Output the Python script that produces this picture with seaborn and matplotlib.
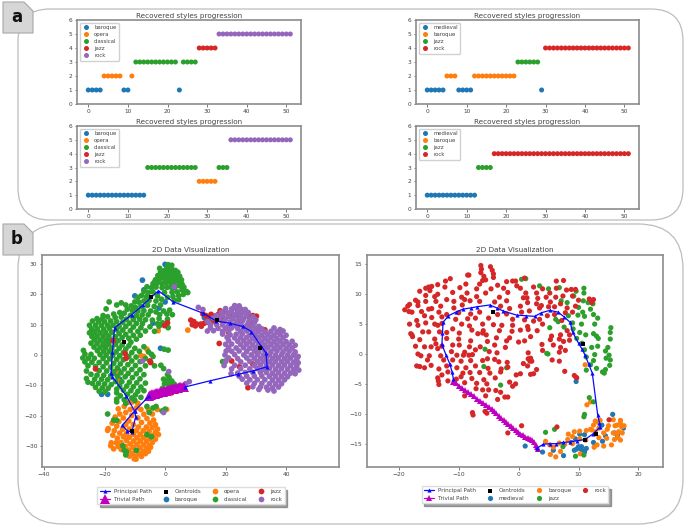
"""Recovered style progressions and 2D embeddings with principal paths."""
import matplotlib
matplotlib.use("Agg")

import matplotlib.pyplot as plt
import numpy as np
import pandas as pd
import seaborn as sns
from matplotlib.patches import FancyBboxPatch, Polygon

W, H = 685, 527
TEXT = "#444444"
SPINE = "#8c8c8c"
COLORS = ["#1f77b4", "#ff7f0e", "#2ca02c", "#d62728", "#9467bd"]

STYLES_5 = ["baroque", "opera", "classical", "jazz", "rock"]
STYLES_4 = ["medieval", "baroque", "jazz", "rock"]

# style level at each position of the 52 step progression
LEVELS_TL = [1, 1, 1, 1, 2, 2, 2, 2, 2, 1, 1, 2, 3, 3, 3, 3, 3, 3, 3, 3, 3, 3, 3, 1, 3, 3,
             3, 3, 4, 4, 4, 4, 4, 5, 5, 5, 5, 5, 5, 5, 5, 5, 5, 5, 5, 5, 5, 5, 5, 5, 5, 5]
LEVELS_TR = [1, 1, 1, 1, 1, 2, 2, 2, 1, 1, 1, 1, 2, 2, 2, 2, 2, 2, 2, 2, 2, 2, 2, 3, 3, 3,
             3, 3, 3, 1, 4, 4, 4, 4, 4, 4, 4, 4, 4, 4, 4, 4, 4, 4, 4, 4, 4, 4, 4, 4, 4, 4]
LEVELS_BL = [1, 1, 1, 1, 1, 1, 1, 1, 1, 1, 1, 1, 1, 1, 1, 3, 3, 3, 3, 3, 3, 3, 3, 3, 3, 3,
             3, 3, 2, 2, 2, 2, 2, 3, 3, 3, 5, 5, 5, 5, 5, 5, 5, 5, 5, 5, 5, 5, 5, 5, 5, 5]
LEVELS_BR = [1, 1, 1, 1, 1, 1, 1, 1, 1, 1, 1, 1, 1, 3, 3, 3, 3, 4, 4, 4, 4, 4, 4, 4, 4, 4,
             4, 4, 4, 4, 4, 4, 4, 4, 4, 4, 4, 4, 4, 4, 4, 4, 4, 4, 4, 4, 4, 4, 4, 4, 4, 4]
YTICKS = [0, 1, 2, 3, 4, 5, 6]

# left embedding: principal path, trivial path, centroids
PATH_L = [(6.5, -10.6), (15, -8.5), (24.1, -6.4), (29, -5.3), (33.7, -3.9), (33.4, 0.6), (31.8, 2.8),
          (28.5, 7.7), (25.7, 9.4), (21.3, 10.5), (16.9, 11.2), (12.5, 13.8), (2.6, 17.6), (-2.2, 21.2),
          (-7.3, 16.5), (-11.1, 13.2), (-16.7, 9), (-17.4, 1.1), (-17.9, -6.1), (-17.4, -7.2),
          (-12.8, -13.6), (-10.1, -18.5), (-9.7, -20.4), (-11, -25.4), (-12.5, -25.1), (-14.1, -23.2),
          (-10.1, -18.5), (-5.3, -13.6)]
TRIVIAL_L = [(-5.3, -13.5), (-5, -13.3), (-4.6, -13.2), (-4.2, -13), (-3.8, -12.9), (-3.4, -12.8),
             (-3, -12.7), (-2.6, -12.6), (-2.2, -12.5), (-1.8, -12.4), (-1.4, -12.3), (-1, -12.2),
             (-0.6, -12.1), (-0.2, -12), (0.2, -11.8), (0.6, -11.7), (1, -11.6), (1.4, -11.5),
             (1.8, -11.4), (2.2, -11.3), (2.6, -11.2), (3, -11.1), (3.4, -11), (3.8, -10.9),
             (4.2, -10.8), (4.6, -10.7), (5, -10.6), (5.4, -10.6), (5.8, -10.5), (6.2, -10.5)]
CENTROIDS_L = [(-4.6, 19.1), (-13.5, 4.4), (-11, -25.1), (17.2, 11.6), (31.5, 2.2)]

BAROQUE_L = [(-7.5, 24.7), (-3.5, 24), (-7, 21.5), (-10, 19.5), (0, 29.9), (-1.5, 26), (2, 22.5), (3, 22.2),
             (0, 17.5), (-2, 15.5), (-1.5, 2.2), (-4, 10.5), (-17, -6), (-21, -13), (-15, -8), (-19, -13),
             (-24, 8), (-19, 5), (4.5, 25), (14.8, 12), (16, 12.5), (13, 12.3), (-20, 3), (-15.5, -5)]
OPERA_L = [(7.5, 8.2), (-2.3, 8), (-6, 1.9), (-8, -0.2), (-7, -0.5), (-15.5, -6), (-15.5, -8.5), (2, -12.7),
           (0.5, -18), (-10.8, -15.5), (-12, -15.6), (-9, -16), (-13.5, -17), (-15.5, -17.8), (-8, -18),
           (-5.5, -18.2), (-11.5, -18), (-13, -19), (-15, -19.5), (-7, -19.6), (-4.2, -19.5), (-11, -20),
           (-16.5, -20.5), (-13.8, -20.8), (-9, -20.8), (-6, -21), (-3.8, -21.5), (-12, -21.8), (-15.3, -22),
           (-7.8, -22.3), (-5, -22.5), (-17.5, -22.5), (-13, -23), (-10.5, -23), (-3.2, -23), (-16, -23.5),
           (-8.8, -23.8), (-6.2, -23.8), (-4.3, -24), (-18.8, -24.3), (-14, -24.5), (-11.8, -24.5), (-2.5, -24.5),
           (-16.8, -25), (-9.5, -25), (-7.2, -25), (-5.3, -25.3), (-3.2, -25.5), (-19, -24.9), (-15, -25.8),
           (-12.8, -26), (-10.5, -26.2), (-8.2, -26.2), (-6, -26.5), (-4, -26.6), (-2.2, -26.3), (-17.3, -26.5),
           (-13.8, -27), (-11.8, -27.2), (-9.3, -27.3), (-7.2, -27.3), (-5.2, -27.7), (-3.2, -27.8),
           (-15.8, -27.5), (-12.8, -28.2), (-10.4, -28.4), (-8.2, -28.4), (-6.2, -28.6), (-4.2, -28.9),
           (-17.8, -29), (-16.2, -29), (-14.6, -28.9), (-11.6, -29.4), (-9.3, -29.5), (-7.2, -29.7),
           (-5.2, -29.9), (-18, -30), (-15.5, -30.2), (-13.2, -30.2), (-10.6, -30.5), (-8.3, -30.7),
           (-6.2, -30.8), (-4.8, -30.5), (-17, -31), (-14.5, -31.2), (-12, -31.4), (-9.6, -31.6), (-7.3, -31.8),
           (-5.5, -31.8), (-13, -32.3), (-10.8, -32.5), (-8.6, -32.7), (-6.5, -32.6), (-11.8, -33.4),
           (-9.8, -33.6), (-7.8, -33.5), (-10.2, -34.3), (-9.6, -34.4), (-2.6, -18), (-9.5, -17.5)]
CLASSICAL_L = [
    (1, 29.8), (1.5, 29), (2.2, 29.6), (0.5, 28.5), (-1.8, 28.6), (-1.5, 27.5), (-0.3, 27.8), (1, 27.6), (2.3, 28.2),
    (3.4, 27.9), (4.2, 27.3), (3, 26.8), (1.8, 26.6), (0.3, 26.5), (-1, 26.4), (-2.4, 26.2), (4.8, 26), (3.6, 25.6),
    (2.4, 25.4), (1, 25.2), (-0.4, 25.3), (-1.9, 25), (-3.2, 24.8), (5.4, 24.8), (4.3, 24.4), (3, 24), (1.6, 24),
    (0.2, 23.8), (-1, 23.5), (-2.6, 23.7), (-4, 23.5), (5.6, 23.4), (4.6, 22.9), (3.5, 22.7), (6.2, 22.4), (2, 22.4),
    (0.6, 22.3), (-1, 22.2), (-3, 22.4), (-4.5, 22.2), (-6, 22.5), (7, 21), (5.6, 21.5), (4, 20.8), (2.3, 20.7),
    (-0.2, 20.6), (-4, 20.8), (-5.5, 20.6), (-7, 21), (7.5, 20.6), (6, 20), (4.5, 19.5), (2.6, 19.3), (0.8, 19),
    (-2.5, 19.5), (-6.2, 19.2), (-7.8, 19.6), (-9, 19), (-1.2, 18.4), (-3, 17.8), (-5.3, 18), (-7, 17.8), (-8.6, 17.4),
    (-10, 17.5), (-14.5, 17.2), (-18.5, 17.5), (3, 18), (4.5, 18.2), (-1.5, 16.5), (-3.6, 16), (-5.8, 16.4), (-8, 16),
    (-9.8, 15.7), (-11.2, 16.2), (-13, 16.5), (-16, 16.5), (-12.5, 15.1), (-10.8, 14.6), (-9, 14.5), (-7, 14.6),
    (-4.8, 14.5), (-3, 14.2), (-0.5, 14.5), (1.5, 14.8), (0.6, 13.5), (2.4, 13.3), (-1.8, 13.3), (-5.6, 13.2),
    (-7.6, 13.2), (-9.5, 13), (-11.5, 13), (-13.5, 13.8), (-15, 14), (-17, 13.5), (-19.5, 15.2), (-20.5, 13), (-19, 12.6),
    (-16.5, 12.4), (-14.5, 12.5), (-12.8, 11.8), (-10.5, 11.7), (-8.4, 11.8), (-6.5, 11.6), (-4.2, 11.5), (-2, 12),
    (0.8, 11.8), (-20.8, 11.8), (-22.5, 12), (-24, 11.2), (-22, 11), (-20, 11), (-18, 11.2), (-16, 11), (-14, 10.8),
    (-11.8, 10.5), (-9.5, 10.4), (-7.5, 10.3), (-2.5, 10.3), (0, 10.2), (-25, 9.8), (-23, 9.8), (-21, 9.7), (-19, 9.8),
    (-17.2, 9.8), (-15.2, 9.5), (-13, 9.4), (-10.5, 9.2), (-8, 9), (-5, 9.3), (-2, 9.5), (1, 9), (-24.3, 8.6), (-22.4, 8.6),
    (-20.3, 8.5), (-18.4, 8.7), (-16, 8.3), (-14, 8.2), (-11.5, 8), (-9, 7.8), (-6.5, 7.9), (-25, 7.3), (-23.3, 7.4),
    (-21.5, 7.3), (-19.6, 7.3), (-17.6, 7.5), (-15.2, 7), (-13, 6.8), (-10.5, 6.5), (-8.2, 6.5), (-24.2, 6.1), (-22.5, 6.1),
    (-20.5, 6.1), (-18.6, 6.2), (-16.5, 6), (-14.2, 5.7), (-12, 5.5), (-9.5, 5.2), (-23.4, 5), (-21.5, 4.9), (-19.6, 4.8),
    (-17.8, 4.9), (-15.5, 4.7), (-11.3, 4.2), (-24.5, 3.9), (-22.5, 3.8), (-20.5, 3.6), (-18.6, 3.6), (-16.4, 3.5),
    (-14.2, 3.3), (-12, 3), (-23.5, 2.6), (-21.5, 2.5), (-19.6, 2.4), (-17.6, 2.3), (-15.2, 2.2), (-13, 1.9), (-10, 2.2),
    (-7, 2.7), (-5.5, 1), (-27, 1.5), (-22.4, 1.4), (-20.4, 1.2), (-18.5, 1.1), (-16.2, 1), (-13.8, 0.8), (-11, 0.8),
    (-8.5, 1.2), (-4.5, 0.2), (-26.5, 0.3), (-24.5, 0.2), (-21.5, 0.1), (-19.5, -0.1), (-17.3, -0.2), (-15, -0.3),
    (-12, -0.5), (-9.6, -0.7), (-6.5, -1.2), (-4, -0.5), (-27.2, -1), (-25.4, -1.1), (-23.4, -1.1), (-20.5, -1.2),
    (-18.3, -1.3), (-16, -1.5), (-13.8, -1.6), (-11, -2), (-8.3, -2.2), (-4.8, -2.3), (-26.5, -2.3), (-24.2, -2.4),
    (-21.8, -2.5), (-19.4, -2.6), (-17, -2.8), (-14.8, -3), (-12.3, -3.2), (-9.8, -3.5), (-6.5, -3.6), (-3.5, -3.6),
    (-25.5, -3.6), (-23, -3.8), (-20.5, -3.9), (-18, -4), (-15.8, -4.3), (-13.5, -4.6), (-11, -4.8), (-8.3, -4.9),
    (-1.4, -3.4), (-0.5, -4.5), (-26, -5.3), (-21.8, -5.2), (-19.3, -5.3), (-17, -5.5), (-14.6, -5.9), (-12.2, -6.1),
    (-9.5, -6.2), (-7, -6.5), (0.8, -6.5), (1.3, -7.4), (-24.5, -6.4), (-22.5, -6.7), (-20.3, -6.7), (-18, -6.9),
    (-15.8, -7.1), (-13.2, -7.2), (-10.8, -7.5), (-8.3, -7.9), (-0.5, -8), (1, -8.5), (2.2, -8.6), (-26, -7.8),
    (-23.3, -8), (-21, -8), (-19, -8.2), (-16.4, -8.8), (-14.3, -8.8), (-11.8, -9), (-9.4, -9.2), (-6.5, -9.3),
    (-0.2, -9.5), (1.5, -9.8), (3, -9.6), (-25.5, -9), (-24, -9.4), (-22, -9.4), (-20, -9.6), (-17.8, -9.8),
    (-15, -10.2), (-12.7, -10.3), (-10.5, -10.5), (-8, -10.6), (-0.8, -11), (1.2, -11.2), (-23, -10.7), (-20.8, -10.9),
    (-18.8, -11), (-16, -11.3), (-13.8, -11.6), (-11.3, -11.8), (-9, -12), (-7, -11.8), (-21.8, -12), (-19.8, -12.2),
    (-16, -12.5), (-12.5, -13), (-9.8, -13.2), (-14.8, -13.5), (-11, -14.2), (-8, -14), (-16, -14.6), (-13.5, -14.8),
    (-10, -15), (-16, -15.5), (-13, -16), (-6, -17), (-4, -17.5), (-3, -17), (-1, -18.5), (0, -17.9), (-19, -19.5),
    (-17, -21.5), (-16, -21.6), (-6, -26.3), (-4.5, -27), (-14, -30), (-13.5, -31.5), (-12.8, -32), (-9.5, -31.5),
    (-5.2, -19), (-13, -33), (20, -2), (19, -2.2), (-0.8, 10.6), (-1.8, 9.8), (1, 1.6), (-0.3, 1.9), (-3.5, 7.8),
]
JAZZ_L = [(8.5, 11.5), (9.5, 11), (9, 10), (10.5, 10.2), (11.8, 10.2), (13, 10.5), (14, 10.8), (10, 9.6), (12, 9.5),
          (12.5, 13.5), (13.5, 13), (14, 12.4), (15.2, 13.4), (16.4, 12.8), (17.6, 13.4), (18.2, 14.6), (19, 12.2),
          (20, 14.2), (21, 12.8), (22.5, 13.2), (23.8, 13.6), (25.5, 14), (27.5, 12.8), (29, 13), (30.2, 12.8), (28, 10.5),
          (29.5, 10.8), (24, 11.2), (33, 8.3), (17.9, 3.8), (-17.2, 4.7), (-13.2, 0.5), (-12.9, -1.1), (-5, -2),
          (-4.8, -2.5), (-23, -4.6), (-0.2, 9.7), (0.8, 10.6), (29, -3), (24.6, -3.9), (22, -2), (27.4, -10.8),
          (20.9, 7.5), (16, 11.2), (18.5, 11.5)]
ROCK_L = [(3, 22.5), (1.2, -5.5), (-7.5, -2), (-0.5, -19), (6.8, -9.5), (8, -8.8), (11, 15.7), (12.5, 15), (23, 16.3), (24.5, 16.2),
          (20, 15.3), (22, 15.2), (23.5, 15.3), (25.2, 15.1), (26.5, 15), (18.6, 14.1), (20.5, 14), (22, 14.2), (24, 14.1), (25.8, 14.2),
          (27.5, 14), (17, 13), (19, 13.2), (21, 13), (23, 13), (25, 13.2), (27, 13), (29, 12.6), (16, 12.2), (18, 12.1), (20, 11.9), (22.3, 12),
          (24.3, 12.1), (26, 12), (28, 11.7), (30, 11.6), (14, 11), (19.5, 11), (21.5, 10.9), (23.5, 10.9), (25.5, 11.1), (27.5, 10.7),
          (29.5, 10.6), (15, 10), (17, 10), (19, 9.9), (21, 9.7), (23, 9.8), (25, 10), (27, 9.7), (29, 9.6), (31, 9.4), (15, 9), (17.5, 8.8),
          (20, 8.8), (22, 8.9), (24, 8.7), (26, 8.9), (28, 8.6), (30, 8.7), (32, 8.6), (36, 8.9), (38, 8.4), (14, 7.9), (16, 8), (19, 7.8),
          (21, 7.9), (25, 7.7), (27, 7.9), (29, 7.6), (31, 7.8), (33, 7.6), (35, 7.8), (37, 7.6), (39, 7.9), (19, 6.9), (21.5, 6.6), (23.5, 6.8),
          (25.5, 6.9), (28, 6.5), (30, 6.8), (32, 6.5), (34, 6.7), (36, 6.5), (38, 6.8), (40, 6.5), (20.5, 5.8), (23, 5.6), (25, 5.7), (27, 5.8),
          (29, 5.5), (31, 5.7), (33, 5.5), (35, 5.7), (37, 5.4), (39, 5.7), (21, 4.8), (24, 4.5), (26, 4.7), (28, 4.4), (30, 4.7), (32, 4.4), (34, 4.6),
          (36, 4.4), (38, 4.6), (40, 4.4), (42, 4.5), (20, 3.5), (22, 3.6), (25, 3.4), (27, 3.6), (29, 3.3), (31, 3.6), (33, 3.3), (35, 3.5), (37, 3.3),
          (39, 3.5), (41, 3.3), (43, 3.2), (21, 2.4), (23.5, 2.3), (26, 2.4), (28, 2.2), (30, 2.4), (32.5, 2.2), (34, 2.4), (36, 2.2), (38, 2.4), (40, 2.2),
          (42, 2.3), (20.2, 1.3), (22, 1.2), (24.5, 1.3), (27, 1.1), (29.5, 1.3), (31, 1), (33, 1.2), (35, 1), (37, 1.3), (39, 1), (41, 1.2), (43, 1), (19.8, 0),
          (23, 0.1), (26, 0), (28.5, 0), (30.5, 0.1), (32.5, -0.1), (34.5, 0), (36.5, -0.1), (38.5, 0.1), (40.5, -0.1), (42.5, 0), (44, -0.5), (21, -1), (24, -1.2),
          (27, -1), (29.5, -1.1), (31.5, -1.2), (33.5, -1), (35.5, -1.2), (37.5, -1), (39.5, -1.2), (41.5, -1), (43.5, -1.4), (20, -2.2), (25, -2.3), (28, -2.1),
          (30.5, -2.3), (32.5, -2.1), (34.5, -2.3), (36.5, -2.1), (38.5, -2.3), (40.5, -2.1), (42.5, -2.4), (44, -2.6), (19.5, -3.5), (23, -3.4), (26.5, -3.4), (29.5, -3.5),
          (31.5, -3.3), (33.5, -3.5), (35.5, -3.3), (37.5, -3.5), (39.5, -3.3), (41.5, -3.5), (43.5, -3.7), (22, -4.6), (25, -4.5), (28, -4.6), (30.5, -4.5),
          (32.5, -4.7), (34.5, -4.5), (36.5, -4.7), (38.5, -4.5), (40.5, -4.7), (42.5, -4.8), (44.2, -5), (21.8, -6.2), (24, -6), (26.5, -5.8), (29, -5.8), (31.5, -5.8),
          (33.5, -5.8), (35.5, -6), (37.5, -5.8), (39.5, -6), (41.5, -6), (43, -6.2), (24.5, -7), (27, -7), (29.5, -7), (32, -7), (34.5, -7.1), (36.5, -7), (38.5, -7.1), (40.5, -7.2),
          (25.5, -8), (28, -8.2), (30.5, -8.2), (33, -8.2), (35.5, -8.3), (37.5, -8.3), (39.5, -8.2), (27, -9.3), (29.5, -9.4), (32, -9.4), (34.5, -9.5), (36.5, -9.6), (38.5, -9.5),
          (29, -10.5), (31.5, -10.6), (33.5, -10.7), (35.5, -10.9), (37.5, -10.6), (31, -11.4), (34, -11.6), (36, -11.9)]

# right embedding
PATH_R = [(-10.9, -4.1), (-11.1, -3), (-11.5, -1.6), (-12.1, -0.2), (-12.8, 1.6), (-12.7, 3.5), (-12.6, 5.3), (-11.7, 6.4), (-10.5, 7), (-9.3, 7.5),
          (-8, 7.7), (-7, 7.9), (-4.8, 8.2), (-3.6, 7.7), (-2.6, 7.2), (-0.3, 6.5), (1.2, 6.4), (2.7, 6.3), (3.8, 6.9), (5.2, 7.3), (6.6, 7), (7.6, 6.2),
          (8.6, 5.3), (9, 3.7), (10, 1.8), (10.6, 0.8), (11.1, -0.2), (11.7, -1.7), (12.3, -3.2), (13.2, -10.2), (13.5, -11.5), (13.6, -12.2), (12.5, -13.3), (11.1, -14.3),
          (9.8, -14.5), (8.6, -14.7), (7.4, -14.8), (6.3, -15), (5.2, -15), (4.1, -15.1), (3, -15.8)]
TRIVIAL_R = [(-10.9, -4.6), (-10.4, -4.9), (-9.9, -5.3), (-9.4, -5.7), (-8.9, -6.1), (-8.4, -6.4), (-7.9, -6.7), (-7.4, -7.1), (-6.9, -7.5), (-6.4, -7.8), (-5.9, -8.2),
             (-5.4, -8.5), (-4.9, -8.9), (-4.5, -9.2), (-4.1, -9.6), (-3.7, -9.9), (-3.3, -10.3), (-2.9, -10.7), (-2.5, -11), (-2.1, -11.4), (-1.7, -11.7), (-1.3, -12), (-0.9, -12.4),
             (-0.5, -12.7), (-0.1, -13), (0.3, -13.3), (0.7, -13.5), (1.1, -13.8), (1.5, -14), (1.9, -14.2), (2.3, -14.4), (2.6, -14.8), (2.9, -15.2), (3.1, -15.6), (3.2, -15.9)]
CENTROIDS_R = [(-4.3, 7), (10.7, 1.6), (13, -13.3), (11, -14.4)]

MEDIEVAL_R = [(9.6, -4.6), (1.1, -15.4), (4, -16.4), (5.8, -16.1), (7.5, -17), (15.7, -10.1), (13.9, -11.9), (17.5, -12.4), (16, -13.2), (10.2, -13.4), (11, -13.5), (8.8, -14.8), (9.5, -14.2), (10.5, -15.5),
              (9.7, -15.9), (10, -15.5), (10.5, -16), (11, -16.4), (11.3, -15.8), (9.3, -16.1), (12.5, -14.8), (14, -14.6), (14.5, -13.7), (16.5, -13.6)]
BAROQUE_R = [(11.1, -1.8), (11.4, -8.5), (12, -8), (4.5, -14.6), (5.2, -15.2), (5.8, -15.6), (6.2, -17.2), (5.3, -16.8), (7, -16.3), (6.8, -14.9), (7.7, -15.1), (8.3, -13.4), (9.3, -13), (9, -13.8), (10.2, -12.9),
             (11.3, -12.8), (12, -12.6), (12.8, -11.2), (13.2, -11.4), (12.5, -11.9), (13.6, -11.1), (12.8, -13), (13.4, -14), (14.8, -12.6), (15, -12), (14.2, -13.2), (14.7, -14.1), (13.1, -15.2), (12.6, -15.6), (14.2, -15.4),
             (15.5, -15.2), (16, -14.3), (16.6, -14), (17, -14.4), (15.8, -13.2), (16.7, -13), (17.3, -13.2), (17.2, -12.2), (17.6, -12), (16.1, -12), (15.8, -11), (16.4, -11.9), (17, -11.1), (17, -11.6),
             (9, -15), (10.3, -16.7), (11.2, -14.4), (10.2, -14.2), (8.2, -14.3), (12.2, -12.7), (13.4, -12.4), (16.4, -13.3)]
JAZZ_R = [(0.5, 12.5), (1.2, 12.6), (3.5, 11.4), (5, 10.9), (6.8, 11.1), (9.6, 10.5), (10.9, 11), (9.2, 9.7), (10.9, 10.2), (7.1, 8.9), (8.1, 8.6), (10.8, 8.9), (11.6, 8.6), (12.4, 8.4), (10, 7.8), (12, 7.5), (10.7, 7), (9.9, 6.5), (8.3, 6.4),
          (12.5, 6.6), (11, 6.3), (13.2, 6), (6.2, 5.8), (6.6, 5.4), (9, 5.2), (10.5, 5), (12.7, 5), (5.2, 4.4), (7.6, 4.5), (9.1, 4.2), (15.4, 4.4), (15.3, 3.6), (10.2, 3.6), (11.2, 3.2), (12.5, 3.4), (13, 3), (13.3, 2.6), (15.3, 2.5),
          (9.7, 2.6), (10.6, 1.8), (12.2, 1.1), (13.2, 1.3), (14.9, 1.1), (14.5, 0.5), (-5.6, 0.8), (4.7, 0.1), (4.9, 0), (11, 0.7), (12.7, -0.1), (11.3, -0.5), (15.1, -0.2), (14.6, -0.7), (12.5, -1.1), (15.3, -1), (12, -1.8),
          (13, -2.4), (15.2, -1.9), (11.3, -2.7), (14.5, -2.6), (14, -3), (14.3, -3.2), (-5.8, -2.1), (-2, -2.3), (-3, -5.2), (11.8, -7.3), (11, -10.1), (10.9, -10.5), (4.5, -13.1), (6, -12.6), (12.5, -8), (7.4, -15.5), (9.5, -17.1), (10.9, -16.9)]
ROCK_R = [(-6.3, 14.8), (-6.2, 14.2), (-4.7, 14.6), (-4.4, 14), (-6.3, 13.6), (-4.2, 13.4), (-8.5, 13.2), (-8.3, 13.2), (-5.8, 13), (-4.2, 12.8), (-6, 12.3), (-5.5, 12.4), (-11.4, 12.6), (-12.2, 12.2), (-2, 12.1), (-1, 12.2), (-0.5, 12.2), (1, 12.7), (6.3, 12.2), (7.5, 12.3),
          (-8.8, 11.7), (-6.5, 11.7), (-3.5, 11.5), (-0.3, 11.4), (-13.5, 11.6), (-12.3, 11.2), (-14.5, 11.3), (-15, 11.2), (-15.5, 11), (-9.8, 11.1), (-7, 10.9), (-4.6, 10.9), (-2.5, 11), (0.3, 11), (2.5, 11.2), (4, 10.9), (6.3, 11), (-16.5, 10.5), (-14.8, 10.6),
          (-13.5, 10), (-11, 10.3), (-8.6, 10.2), (-5.5, 10.2), (-1.8, 10.3), (1.2, 10.2), (3, 10.2), (5.2, 10.2), (8, 10.7), (8.8, 10.8), (9.5, 10.8), (-15.5, 9.8), (-14, 9.6), (-12, 9.1), (-9.5, 9.5), (-7, 9.6), (-3.2, 9.5), (0.8, 9.4), (1.4, 9.4), (3.2, 9.3), (4.6, 9.5), (6.2, 9.5), (7.4, 9.7), (9, 9.7),
          (-17.2, 9), (-16.8, 8.7), (-15.5, 8.8), (-13.8, 8.8), (-10.8, 8.8), (-9, 9.1), (-8.1, 8.9), (-6.5, 8.8), (-4, 8.7), (-2, 8.9), (1.5, 8.6), (3, 8.4), (5.3, 8.7), (7, 8.4), (10, 9), (11.8, 9.2), (12.5, 9.1), (-18.5, 8), (-18.2, 8.3), (-16.8, 8.1), (-14.5, 7.6), (-13, 8), (-10.8, 7.7), (-9.4, 8.2), (-3, 8), (-1.5, 7.6), (0.3, 8),
          (3.5, 7.7), (5, 7.9), (6, 7.9), (8.1, 7.7), (9.5, 8), (12.2, 8.6), (-19, 7.4), (-18.3, 7.1), (-17.8, 7), (-16.2, 7.1), (-15, 7.5), (-13.3, 7), (-12, 6.6), (-10, 6.9), (-8, 6.7), (-6.5, 7), (-3.5, 6.6), (-2, 6.7), (0.5, 7), (1.8, 7.2), (3.8, 8.1), (4.8, 6.4), (6, 6.6), (7.8, 6.9), (9, 7),
          (-15.7, 6.4), (-14.5, 6.1), (-12.8, 6.2), (-10.5, 5.8), (-8.5, 5.9), (-7.2, 6), (-5, 6), (-1, 5.8), (1, 5.7), (2.5, 5.5), (3.5, 5.8), (7.2, 5.6), (-17, 5.6), (-15.5, 5.2), (-14, 5), (-12.8, 5.1), (-9.5, 5), (-8.2, 4.7), (-6, 5), (-4.2, 4.9), (-2.8, 4.8), (-1, 4.8), (1.5, 4.6), (4, 5),
          (-18.2, 5), (-16.8, 4.8), (-13.5, 4.8), (-11, 4.2), (-7.8, 4), (-5.9, 3.9), (-3.2, 3.9), (-1.1, 3.8), (0.3, 4), (1.6, 4.1), (3.1, 3.9), (8.1, 3.9), (-18, 3.4), (-17.8, 3.2), (-16, 3.7), (-15, 3.7), (-13.2, 3.7), (-12, 3.6), (-9.9, 3.5), (-6.8, 3.4), (-6, 3.5), (-5.4, 3.2), (-3.7, 2.7), (-1.5, 2.7), (2, 2.9), (5.5, 3), (7, 3.2), (8.5, 3.2),
          (-17.7, 2.9), (-16.5, 2.4), (-14, 2.5), (-12, 2.6), (-10, 2.5), (-8, 2.2), (-5.2, 2.1), (-2, 2.2), (0, 2), (1, 2.2), (5.3, 2.4), (6.8, 2.5), (7.5, 2.1), (8.5, 2.3), (-13.8, 1.7), (-12.8, 1.3), (-11, 1.5), (-9.9, 1.5), (-8.2, 1.2), (-6.4, 1.2), (-4, 1.5), (-2.2, 1.1), (3.9, 1.6), (5.8, 1.5), (7, 1.1),
          (-17.2, 1.3), (-15.7, 1.2), (-14.6, 1.2), (-13.5, 0.9), (-11.2, 0.4), (-9, 0.3), (-7.2, 0.7), (-4.9, 0.4), (-3.6, 0.2), (1.6, 0.2), (4, 0.6), (6.8, 0.3), (7.8, 0.6), (-16.8, 0), (-16.3, -0.3), (-14.9, -0.3), (-13, -0.3), (-10.3, -0.2), (-9.2, -0.2), (-8.3, -0.2), (-7.7, -0.1), (-5.2, -0.8), (-4, -0.9), (1.6, -0.8), (2, -0.7), (5.6, -1), (6.8, -1.2),
          (-15.2, -1), (-12.5, -1), (-11, -1), (-9.6, -1.2), (-8, -1.1), (-6, -1.1), (-3.3, -1.3), (-1.9, -1.4), (1.9, -1.2), (2.2, -1.2), (-14.6, -1.9), (-12, -2), (-10.3, -2.3), (-8.8, -2.3), (-7.2, -2), (-5.1, -2.4), (-2.9, -2.5), (-1.8, -2.2), (0.8, -1.6), (1.5, -2), (3, -2.6), (-17, -2), (-16.5, -2.1), (-15.7, -2.3), (-13.3, -2.5),
          (-12.8, -3.5), (-11.8, -3), (-9.3, -3.2), (-8.1, -3.1), (-6.5, -3.1), (-4.8, -3.2), (-3, -3), (-0.4, -3.5), (0.3, -3.3), (2, -3.4), (2.5, -3.3), (7.7, -2.9), (-13.5, -4), (-10.4, -4.2), (-9.6, -3.8), (-7.8, -4.1), (-5.8, -4.3), (-3.9, -4), (9.3, -3.6), (9.7, -4),
          (-13.4, -4.5), (-13.3, -5.1), (-11.8, -4.5), (-9, -4.8), (-7, -4.9), (-5.3, -5), (-1.5, -4.7), (-0.5, -5), (-9, -7), (-7.1, -5.8), (-6, -6), (-5, -6), (-3.8, -6.1), (-3, -6.4), (-1, -5.4), (-5.5, -7), (-2.3, -7.2), (-1.8, -7.2), (-3.5, -7.6), (-7.7, -9.8), (-7.6, -10.2), (-5.6, -9.6), (-5.3, -9.9), (0.5, -12), (-1.8, -13.2), (15.1, -11), (6.4, -12.2), (9.6, -3.9)]

# (panel pixel rectangles: left, top, right, bottom)
TL_BOX = (77, 20, 301, 104)
TR_BOX = (416, 20, 639, 104)
BL_BOX = (77, 126, 301, 209)
BR_BOX = (416, 126, 639, 209)
EL_BOX = (42, 255, 339, 467)
ER_BOX = (367, 255, 663, 467)

sns.set_theme(style="ticks", rc={"axes.edgecolor": SPINE, "axes.linewidth": 1.2, "text.color": TEXT,
                                 "xtick.color": TEXT, "ytick.color": TEXT, "axes.labelcolor": TEXT})
plt.rcParams["font.family"] = ["DejaVu Sans"]


def add_axes_px(fig, box):
    left, top, right, bottom = box
    return fig.add_axes([left / W, 1 - bottom / H, (right - left) / W, (bottom - top) / H])


def draw_progression(fig, box, levels, styles):
    ax = add_axes_px(fig, box)
    df = pd.DataFrame({"step": np.arange(len(levels)), "level": levels})
    df["style"] = [styles[v - 1] for v in levels]
    sns.scatterplot(data=df, x="step", y="level", hue="style", hue_order=styles, palette=COLORS[:len(styles)],
                    s=13, linewidth=0, ax=ax)
    ax.set_xlim(-2.85, 53.7)
    ax.set_ylim(0, 6)
    ax.set_yticks(YTICKS)
    ax.set_xticks(range(0, 51, 10))
    ax.set_xlabel("")
    ax.set_ylabel("")
    ax.tick_params(labelsize=4.2, length=1.8, width=0.5, pad=1.5)
    ax.set_title("Recovered styles progression", fontsize=5.2, pad=1.5, color=TEXT)
    ax.legend(loc="upper left", fontsize=3.9, frameon=True, fancybox=True, framealpha=0.9, edgecolor="#cccccc",
              borderaxespad=0.5, labelspacing=0.38, handlelength=1.5, handletextpad=0.7, borderpad=0.45)
    return ax


def draw_embedding(fig, box, clouds, path, trivial, centroids, xlim, ylim, xticks, yticks, legend_at, dot, tri):
    ax = add_axes_px(fig, box)
    path = np.array(path)
    trivial = np.array(trivial)
    centroids = np.array(centroids)
    sns.lineplot(x=path[:, 0], y=path[:, 1], sort=False, estimator=None, color="#0a0aff", linewidth=0.9, marker="^",
                 markersize=3, markeredgewidth=0, label="Principal Path", zorder=5, ax=ax)
    sns.lineplot(x=trivial[:, 0], y=trivial[:, 1], sort=False, estimator=None, color="#c000c0", linewidth=0.9, marker="^",
                 markersize=tri, markeredgewidth=0, label="Trivial Path", zorder=4, ax=ax)
    sns.scatterplot(x=centroids[:, 0], y=centroids[:, 1], color="black", marker="s", s=12, linewidth=0,
                    label="Centroids", zorder=6, ax=ax)
    rows = [pd.DataFrame(pts, columns=["x", "y"]).assign(style=name) for name, pts in clouds.items()]
    cloud = pd.concat(rows, ignore_index=True)
    names = list(clouds)
    sns.scatterplot(data=cloud, x="x", y="y", hue="style", hue_order=names, palette=COLORS[:len(names)], s=dot, linewidth=0, ax=ax)
    ax.set_xlim(*xlim)
    ax.set_ylim(*ylim)
    ax.set_xticks(xticks)
    ax.set_yticks(yticks)
    ax.set_xlabel("")
    ax.set_ylabel("")
    ax.tick_params(labelsize=4.3, length=1.8, width=0.5, pad=1.5)
    ax.set_title("2D Data Visualization", fontsize=5.2, pad=2.5, color=TEXT)
    ax.legend(loc="upper center", bbox_to_anchor=legend_at, bbox_transform=fig.transFigure, ncol=4, fontsize=4.1,
              shadow=True, fancybox=False, frameon=True, edgecolor="#dddddd", framealpha=1, columnspacing=1.5,
              handlelength=1.8, labelspacing=0.4, borderpad=0.4, handletextpad=0.7, borderaxespad=0)
    return ax


fig = plt.figure(figsize=(W / 100, H / 100), dpi=100, facecolor="white")

# rounded frames and the a / b tabs sit in a pixel-space backing axes
bg = fig.add_axes([0, 0, 1, 1], zorder=-1)
bg.set_xlim(0, W)
bg.set_ylim(H, 0)
bg.axis("off")
bg.add_patch(FancyBboxPatch((18, 9), 665, 211, boxstyle="round,pad=0,rounding_size=32", fc="white", ec="#bdbdbd", lw=0.9))
bg.add_patch(FancyBboxPatch((18, 224), 665, 300, boxstyle="round,pad=0,rounding_size=45", fc="white", ec="#bdbdbd", lw=0.9))
for top, letter in [(2, "a"), (224, "b")]:
    corners = [(3, top), (24, top), (33, top + 9), (33, top + 31), (3, top + 31)]
    bg.add_patch(Polygon(corners, closed=True, fc="#d6d6d6", ec="#a8a8a8", lw=0.8, joinstyle="round"))
    bg.text(17, top + 15.5, letter, ha="center", va="center", fontsize=12, fontweight="bold", color="#111111")

draw_progression(fig, TL_BOX, LEVELS_TL, STYLES_5)
draw_progression(fig, TR_BOX, LEVELS_TR, STYLES_4)
draw_progression(fig, BL_BOX, LEVELS_BL, STYLES_5)
draw_progression(fig, BR_BOX, LEVELS_BR, STYLES_4)

draw_embedding(fig, EL_BOX, {"baroque": BAROQUE_L, "opera": OPERA_L, "classical": CLASSICAL_L, "jazz": JAZZ_L, "rock": ROCK_L},
               PATH_L, TRIVIAL_L, CENTROIDS_L, (-40.7, 57.5), (-37, 33), range(-40, 41, 20), range(-30, 31, 10),
               (191 / W, 1 - 487 / H), 17, 7)
draw_embedding(fig, ER_BOX, {"medieval": MEDIEVAL_R, "baroque": BAROQUE_R, "jazz": JAZZ_R, "rock": ROCK_R},
               PATH_R, TRIVIAL_R, CENTROIDS_R, (-25.3, 24.1), (-18.9, 16.56), range(-20, 21, 10), range(-15, 16, 5),
               (515 / W, 1 - 486 / H), 14, 4)

fig.savefig("out.png", dpi=100)
plt.close(fig)
